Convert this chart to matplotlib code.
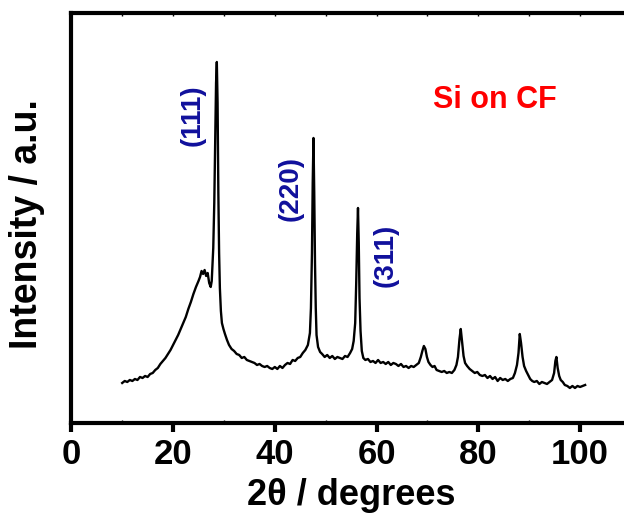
import matplotlib.pyplot as plt
from matplotlib.ticker import MultipleLocator

plt.rcParams['font.family'] = ['Liberation Sans', 'DejaVu Sans']
plt.rcParams['font.weight'] = 'bold'

# XRD scan of Si deposited on carbon fibre (2theta in degrees, intensity in a.u.)
two_theta = [
    10.0, 10.5, 11.0, 11.5, 12.0, 12.5, 13.0, 13.5, 14.0, 14.5, 15.0, 15.5,
    16.0, 16.5, 17.0, 17.5, 18.0, 18.5, 19.0, 19.5, 20.0, 20.5, 21.0, 21.5,
    22.0, 22.5, 23.0, 23.5, 24.0, 24.5, 25.0, 25.3, 25.6, 25.9, 26.2, 26.5,
    26.8, 27.1, 27.4, 27.6, 27.9, 28.1, 28.3, 28.45, 28.6, 28.75, 28.9, 29.05,
    29.2, 29.4, 29.6, 29.9, 30.2, 30.6, 31.0, 31.5, 32.0, 32.5, 33.0, 33.5,
    34.0, 34.5, 35.0, 35.5, 36.0, 36.5, 37.0, 37.5, 38.0, 38.5, 39.0, 39.5,
    40.0, 40.5, 41.0, 41.5, 42.0, 42.5, 43.0, 43.5, 44.0, 44.5, 45.0, 45.5,
    46.0, 46.5, 46.9, 47.1, 47.3, 47.45, 47.6, 47.75, 47.9, 48.05, 48.2, 48.5,
    48.9, 49.3, 49.8, 50.3, 50.8, 51.3, 51.8, 52.3, 52.8, 53.3, 53.8, 54.3,
    54.8, 55.2, 55.5, 55.8, 56.0, 56.2, 56.35, 56.5, 56.65, 56.85, 57.1, 57.4,
    57.8, 58.3, 58.8, 59.3, 59.8, 60.3, 60.8, 61.3, 61.8, 62.3, 62.8, 63.3,
    63.8, 64.3, 64.8, 65.3, 65.8, 66.3, 66.8, 67.3, 67.8, 68.3, 68.7, 69.0,
    69.3, 69.6, 69.9, 70.2, 70.6, 71.0, 71.4, 71.8, 72.3, 72.8, 73.3, 73.8,
    74.3, 74.8, 75.3, 75.7, 76.0, 76.3, 76.55, 76.8, 77.1, 77.4, 77.8, 78.3,
    78.8, 79.3, 79.8, 80.3, 80.8, 81.3, 81.8, 82.3, 82.8, 83.3, 83.8, 84.3,
    84.8, 85.3, 85.8, 86.3, 86.8, 87.2, 87.6, 87.9, 88.15, 88.4, 88.7, 89.0,
    89.4, 89.8, 90.2, 90.6, 91.0, 91.5, 92.0, 92.5, 93.0, 93.5, 94.0, 94.5,
    94.9, 95.15, 95.35, 95.6, 95.9, 96.2, 96.6, 97.0, 97.5, 98.0, 98.5, 99.0,
    99.5, 100.0, 100.5, 101.0,
]
intensity = [
    400, 420, 410, 430, 420, 440, 430, 460, 450, 470, 460, 490,
    500, 530, 550, 590, 620, 650, 690, 730, 780, 830, 880, 940,
    1000, 1060, 1140, 1210, 1290, 1360, 1420, 1460, 1520, 1490, 1530, 1470,
    1500, 1400, 1360, 1420, 1750, 2200, 2900, 3400, 3610, 3200, 2300, 1700,
    1350, 1120, 1000, 940, 890, 830, 780, 740, 720, 690, 680, 650,
    660, 630, 620, 610, 600, 580, 590, 570, 560, 570, 550, 540,
    560, 540, 570, 550, 580, 600, 590, 630, 620, 650, 660, 700,
    730, 780, 900, 1150, 1700, 2400, 2850, 2300, 1600, 1150, 880, 760,
    710, 690, 660, 680, 650, 670, 640, 660, 650, 640, 670, 660,
    700, 740, 820, 1000, 1400, 1900, 2150, 1800, 1250, 920, 720, 650,
    630, 640, 610, 620, 600, 630, 600, 610, 590, 610, 580, 600,
    590, 570, 590, 560, 570, 550, 570, 560, 580, 600, 660, 720,
    770, 740, 660, 610, 580, 560, 570, 530, 520, 510, 520, 500,
    510, 500, 530, 580, 660, 840, 940, 820, 670, 600, 570, 540,
    520, 500, 510, 480, 470, 480, 450, 470, 440, 460, 420, 450,
    430, 440, 420, 440, 450, 500, 580, 700, 890, 800, 660, 570,
    520, 480, 440, 420, 410, 420, 390, 410, 400, 390, 410, 430,
    500, 620, 660, 550, 470, 430, 410, 380, 370, 350, 370, 350,
    370, 360, 370, 380,
]

# peak labels: (text, 2theta, height)
peak_labels = ['(111)', '(220)', '(311)']
label_x = [23.8, 43.2, 61.7]
label_y = [3080, 2345, 1680]

fig = plt.figure(figsize=(6.24, 5.19), dpi=100)
ax = fig.add_axes([0.1143, 0.185, 0.8968, 0.790])

ax.plot(two_theta, intensity, color='black', linewidth=1.7)

ax.set_xlim(0, 110)
ax.set_ylim(0, 4100)

for lab, lx, ly in zip(peak_labels, label_x, label_y):
    ax.text(lx, ly, lab, rotation=90, ha='center', va='center',
            fontsize=20, fontweight='bold', color='#10109c')

ax.text(83.2, 3230, 'Si on CF', ha='center', va='center',
        fontsize=22, fontweight='bold', color='red')

for side in ['left', 'bottom', 'top', 'right']:
    ax.spines[side].set_linewidth(3)

ax.xaxis.set_major_locator(MultipleLocator(20))
ax.xaxis.set_minor_locator(MultipleLocator(10))
ax.tick_params(axis='x', which='major', direction='out', length=6.5, width=3,
               labelsize=25, pad=4)
ax.tick_params(axis='x', which='minor', direction='in', length=2, width=1)
ax.set_yticks([])

# small inward ticks along the top edge
top = ax.secondary_xaxis('top')
top.xaxis.set_major_locator(MultipleLocator(10))
top.tick_params(direction='in', length=2, width=1, labeltop=False)
top.spines['top'].set_visible(False)

ax.set_xlabel('2θ / degrees', fontsize=26, fontweight='bold')
ax.xaxis.set_label_coords(0.5, -0.134)
ax.xaxis.label.set_va('top')
fig.text(0.044, 0.569, 'Intensity / a.u.', rotation=90, ha='center', va='center',
         fontsize=27, fontweight='bold')

fig.savefig('out.png', dpi=100)
